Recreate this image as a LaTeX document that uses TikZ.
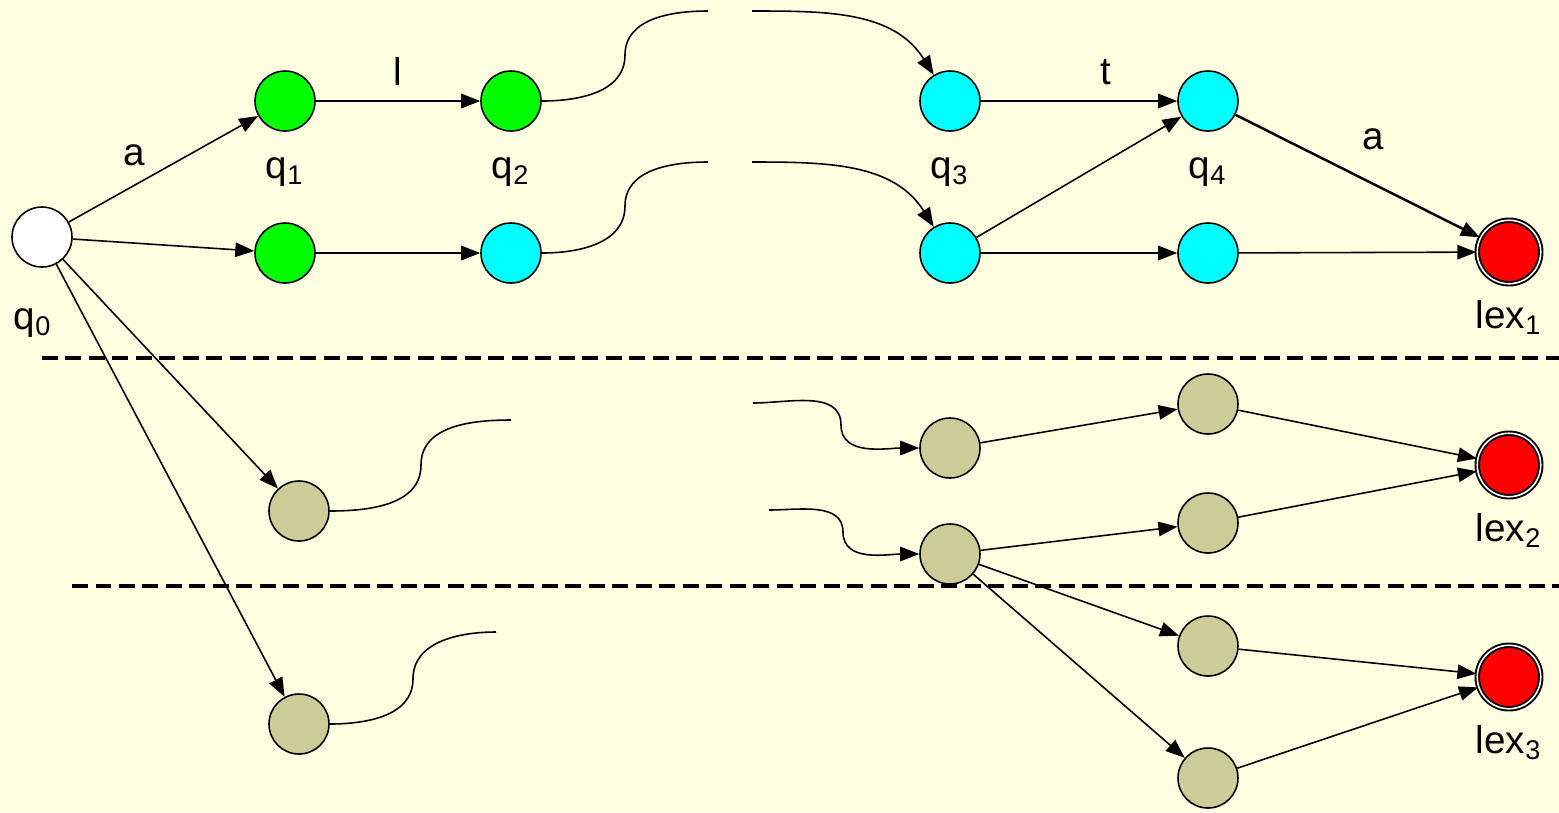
\documentclass[tikz,border=0pt]{standalone}
\usepackage{fontspec}
\setmainfont{Liberation Sans}
\usetikzlibrary{arrows.meta,positioning}
\definecolor{paper}{RGB}{255,255,225}
\definecolor{sand}{RGB}{204,204,153}
\definecolor{leaf}{RGB}{0,255,0}
\definecolor{aqua}{RGB}{0,255,255}
\definecolor{stop}{RGB}{255,0,0}
\tikzstyle{state} = [circle, draw, line width=0.45pt, minimum size=6mm, inner sep=0pt]
\tikzstyle{final} = [state, fill=stop, minimum size=6.35mm, line width=0.55pt,
    double=white, double distance=0.45pt]
\tikzstyle{tag} = [inner sep=0pt, font=\fontsize{11}{13}\selectfont]
\tikzstyle{line} = [draw, line width=0.45pt, -{Triangle[length=1.9mm,width=1.45mm]}]
\tikzstyle{wave} = [draw, line width=0.45pt]
\tikzstyle{split} = [draw, line width=0.9pt, dash pattern=on 1.6mm off 0.75mm]

\begin{document}
\begin{tikzpicture}[x=0.1mm, y=-0.1mm]
    \useasboundingbox (0,0) rectangle (1559,812);
    \fill [paper] (0,0) rectangle (1559,812);

    % Place nodes
    \node [state, fill=white] (q0) at (42,237) {};
    \node [state, fill=leaf] (q1) at (285,101) {};
    \node [state, fill=leaf] (q2) at (511,101) {};
    \node [state, fill=aqua] (q3) at (950,101) {};
    \node [state, fill=aqua] (q4) at (1208,101) {};
    \node [state, fill=leaf] (p1) at (285,253) {};
    \node [state, fill=aqua] (p2) at (511,253) {};
    \node [state, fill=aqua] (p3) at (950,253) {};
    \node [state, fill=aqua] (p4) at (1208,253) {};
    \node [final] (lex1) at (1509,252) {};

    \node [state, fill=sand] (r1) at (299,511) {};
    \node [state, fill=sand] (r2) at (950,448) {};
    \node [state, fill=sand] (r3) at (950,554) {};
    \node [state, fill=sand] (r4) at (1208,404) {};
    \node [state, fill=sand] (r5) at (1208,523) {};
    \node [final] (lex2) at (1509,465) {};

    \node [state, fill=sand] (s1) at (299,724) {};
    \node [state, fill=sand] (s2) at (1208,646) {};
    \node [state, fill=sand] (s3) at (1208,778) {};
    \node [final] (lex3) at (1509,677) {};

    % State names
    \node [tag, below=4mm of q0, xshift=-0.9mm] {q\textsubscript{0}};
    \node [tag, below=2.5mm of q1] {q\textsubscript{1}};
    \node [tag, below=2.5mm of q2] {q\textsubscript{2}};
    \node [tag, below=2.5mm of q3] {q\textsubscript{3}};
    \node [tag, below=2.5mm of q4] {q\textsubscript{4}};
    \node [tag, below=1.5mm of lex1] {lex\textsubscript{1}};
    \node [tag, below=1.5mm of lex2] {lex\textsubscript{2}};
    \node [tag, below=1.5mm of lex3] {lex\textsubscript{3}};

    % Loose ends of the elided paths
    \coordinate (u1) at (708,11);
    \coordinate (v1) at (752,11);
    \coordinate (u2) at (708,162);
    \coordinate (v2) at (752,162);
    \coordinate (u3) at (511,420);
    \coordinate (v3) at (753,403);
    \coordinate (u4) at (496,632);
    \coordinate (v4) at (769,510);

    % Separators
    \path [split] (42,358) -- (1559,358);
    \path [split] (72,586) -- (1559,586);

    % Draw edges
    \path [line] (q0) -- node [tag, pos=0.45, above left=1.1mm] {a} (q1);
    \path [line] (q0) -- (p1);
    \path [line] (q0) -- (r1);
    \path [line] (q0) -- (s1);
    \path [line] (q1) -- node [tag, above=1.5mm] {l} (q2);
    \path [line] (p1) -- (p2);
    \path [line] (q3) -- node [tag, above=1.5mm, xshift=2.7mm] {t} (q4);
    \path [line] (p3) -- (q4);
    \path [line] (p3) -- (p4);
    \path [line, line width=0.7pt] (q4) -- node [tag, pos=0.5, above right=1.9mm,
        xshift=-1mm, yshift=1.2mm] {a} (lex1);
    \path [line] (p4) -- (lex1);

    \path [line] (r2) -- (r4);
    \path [line] (r3) -- (r5);
    \path [line] (r3) -- (s2);
    \path [line] (r3) -- (s3);
    \path [line] (r4) -- (lex2);
    \path [line] (r5) -- (lex2);
    \path [line] (s2) -- (lex3);
    \path [line] (s3) -- (lex3);

    % Wavy pieces standing for the skipped states
    \path [wave] (q2) to[out=0,in=-90] (625,55) to[out=90,in=180] (u1);
    \path [line] (v1) to[out=0,in=122] (q3);
    \path [wave] (p2) to[out=0,in=-90] (625,206) to[out=90,in=180] (u2);
    \path [line] (v2) to[out=0,in=122] (p3);
    \path [wave] (r1) to[out=0,in=-90] (421,465) to[out=90,in=180] (u3);
    \path [wave] (s1) to[out=0,in=-90] (413,679) to[out=90,in=180] (u4);
    \path [line] (v3) to[out=0,in=90] (841,425) to[out=-90,in=180] (r2);
    \path [line] (v4) to[out=0,in=90] (843,532) to[out=-90,in=180] (r3);
\end{tikzpicture}
\end{document}
